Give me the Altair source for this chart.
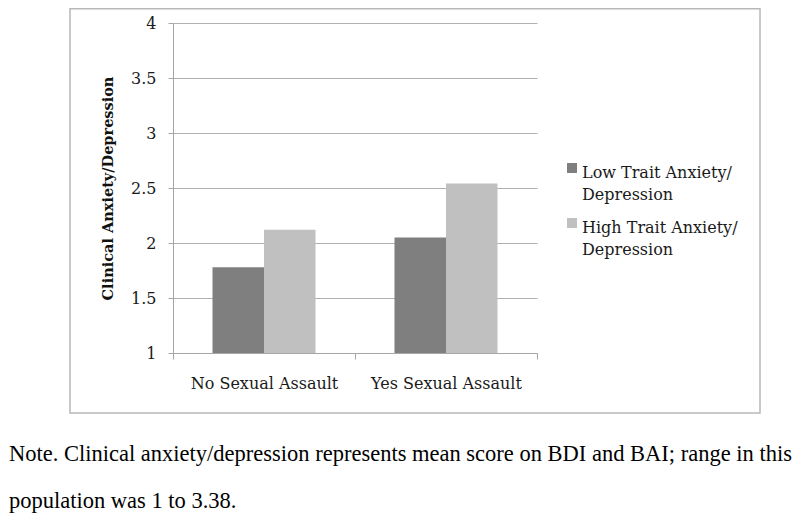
import altair as alt
import pandas as pd

groups = ["No Sexual Assault", "Yes Sexual Assault"]
series = ["Low Trait Anxiety/Depression", "High Trait Anxiety/Depression"]
low_vals = [1.78, 2.05]
high_vals = [2.12, 2.54]
y_ticks = [1, 1.5, 2, 2.5, 3, 3.5, 4]
colors = ["#7f7f7f", "#c0c0c0"]
y_title = "Clinical Anxiety/Depression"
note = ["Note. Clinical anxiety/depression represents mean score on BDI and BAI; range in this",
        "population was 1 to 3.38."]

rows = []
for g, lo, hi in zip(groups, low_vals, high_vals):
    rows.append({"group": g, "series": series[0], "value": lo})
    rows.append({"group": g, "series": series[1], "value": hi})
df = pd.DataFrame(rows)

color_scale = alt.Scale(domain=series, range=colors)
LABEL_FONT = "DejaVu Serif"

bars = alt.Chart(df).mark_bar().encode(
    x=alt.X("group:N", sort=groups, title=None,
            scale=alt.Scale(paddingInner=0, paddingOuter=0),
            axis=alt.Axis(labelAngle=0, tickBand="extent", domainColor="#a6a6a6",
                          tickColor="#a6a6a6", tickSize=6, labelPadding=16,
                          labelFont=LABEL_FONT, labelFontSize=16, labelColor="#1a1a1a",
                          grid=False)),
    xOffset=alt.XOffset("series:N", sort=series,
                        scale=alt.Scale(paddingInner=0, paddingOuter=0.767)),
    y=alt.Y("value:Q", title=y_title,
            scale=alt.Scale(domain=[1, 4], zero=False, nice=False),
            axis=alt.Axis(values=y_ticks, labelExpr="datum.value + ''",
                          gridColor="#b0b0b0", gridWidth=1.2, domainColor="#a6a6a6",
                          tickColor="#a6a6a6", tickSize=5, labelPadding=12,
                          labelFont=LABEL_FONT, labelFontSize=16, labelColor="#1a1a1a",
                          titleFont=LABEL_FONT, titleFontSize=14.5, titleFontWeight="bold",
                          titleColor="#111111", titleX=-65, titleY=165, titleAngle=270,
                          titleAlign="center", titleBaseline="middle")),
    y2=alt.datum(1),
    color=alt.Color("series:N", scale=color_scale, legend=None),
)

layers = [bars]

dummy = pd.DataFrame({"a": [0]})
border = alt.Chart(dummy).mark_rect(fill=None, stroke="#b8b8b8", strokeWidth=1.5).encode(
    x=alt.value(-103), x2=alt.value(587), y=alt.value(-14.2), y2=alt.value(390)
)
layers.insert(0, border)

for i, s in enumerate(series):
    sd = pd.DataFrame({"series": [s]})
    sq = alt.Chart(sd).mark_square(size=100, opacity=1).encode(
        x=alt.value(399), y=alt.value(145 + 55 * i),
        color=alt.Color("series:N", scale=color_scale, legend=None),
    )
    tx = alt.Chart(sd).transform_calculate(
        lab="replace(datum.series, '/', '/\\n')"
    ).mark_text(align="left", baseline="alphabetic", font=LABEL_FONT, fontSize=16,
                color="#1a1a1a", lineBreak="\n", lineHeight=22).encode(
        x=alt.value(409), y=alt.value(155 + 55 * i), text="lab:N"
    )
    layers += [sq, tx]

note_layer = alt.Chart(dummy).mark_text(
    align="left", baseline="alphabetic", font="Liberation Serif", fontSize=22.5,
    color="#000000", lineHeight=47
).encode(x=alt.value(-164), y=alt.value(438), text=alt.value(note))
layers.append(note_layer)

chart = alt.layer(*layers).properties(
    width=364, height=330,
    autosize=alt.AutoSizeParams(type="none"),
    padding={"left": 165, "top": 15, "right": 255, "bottom": 168},
).configure_view(stroke=None)

chart.save("out.html", embed_options={"renderer": "svg", "actions": False})
